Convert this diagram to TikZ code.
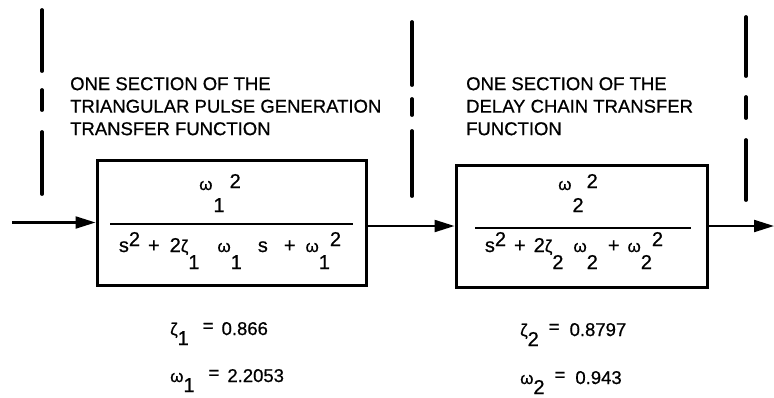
\documentclass[tikz,border=0pt]{standalone}
\usepackage{fontspec}
\setmainfont{Liberation Sans}[FakeBold=0.7]
\usetikzlibrary{arrows.meta}
\newcommand\fsz[1]{\fontsize{#1}{#1}\selectfont}
\newcommand\gk[1]{{\fsz{17}#1}}
\newcommand\lo[1]{\raisebox{-17pt}{#1}}
\newcommand\hi[1]{\raisebox{6pt}{#1}}
\begin{document}
\begin{tikzpicture}[x=1pt,y=-1pt,
  dashseg/.style={line width=3.8pt,line cap=round},
  tfbox/.style={draw,line width=3pt,rectangle,inner sep=0pt},
  fracbar/.style={line width=2pt},
  formula/.style={anchor=base,inner sep=0pt,font=\fsz{20}},
  caption/.style={anchor=north west,inner sep=0pt,align=left,font=\fontsize{18.5}{22.5}\selectfont},
  value/.style={anchor=base west,inner sep=0pt,font=\fsz{18.5}},
  flow/.style={line width=2.2pt,-{Triangle[length=20pt,width=12pt]}}]
\useasboundingbox (0,0) rectangle (774,397);
% dashed separators
\draw[dashseg] (42,10)--(42,71) (42,90)--(42,110) (42,132)--(42,194);
\draw[dashseg] (412,22)--(412,85) (412,99)--(412,115) (412,131)--(412,196);
\draw[dashseg] (746,17)--(746,76) (746,97)--(746,118) (746,140)--(746,200);
% captions
\node[caption] (cap1) at (70,77) {ONE SECTION OF THE\\TRIANGULAR PULSE GENERATION\\TRANSFER FUNCTION};
\node[caption] (cap2) at (466,77) {ONE SECTION OF THE\\DELAY CHAIN TRANSFER\\FUNCTION};
% boxes
\node[tfbox,minimum width=269pt,minimum height=125pt] (b1) at (231.5,222.5) {};
\node[tfbox,minimum width=251pt,minimum height=122pt] (b2) at (581.5,226) {};
% fraction bars
\coordinate (f1l) at (110,224); \coordinate (f1r) at (353,224);
\coordinate (f2l) at (475,228); \coordinate (f2r) at (691,228);
\draw[fracbar] (f1l) -- (f1r);
\draw[fracbar] (f2l) -- (f2r);
% numerators
\node[formula] (n1) at (220,190) {\gk{ω}\kern1pt\raisebox{-22pt}{1}\kern5pt\raisebox{2pt}{2}};
\node[formula] (n2) at (578,190) {\gk{ω}\kern1pt\raisebox{-22pt}{2}\kern3pt\raisebox{2pt}{2}};
% denominators
\node[formula] (d1) at (230,252) {s\hi{2}\hspace{8pt}+\hspace{10pt}2\gk{ζ}\lo{1}\hspace{18pt}\gk{ω}\lo{1}\hspace{16pt}s\hspace{16pt}+\hspace{10pt}\gk{ω}\lo{1}\hi{2}};
\node[formula] (d2) at (574,252) {s\hi{2}\hspace{8pt}+\hspace{8pt}2\gk{ζ}\lo{2}\hspace{10pt}\gk{ω}\lo{2}\hspace{10pt}+\hspace{8pt}\gk{ω}\lo{2}\hi{2}};
% parameter values
\node[value] (z1) at (170,335) {\gk{ζ}\raisebox{-10pt}{\fsz{20}1}\hspace{14pt}\raisebox{3pt}{=}\hspace{8pt}0.866};
\node[value] (w1) at (170,382) {\gk{ω}\raisebox{-10pt}{\fsz{20}1}\hspace{14pt}\raisebox{3pt}{=}\hspace{8pt}2.2053};
\node[value] (z2) at (520,336) {\gk{ζ}\raisebox{-10pt}{\fsz{20}2}\hspace{10pt}\raisebox{3pt}{=}\hspace{10pt}0.8797};
\node[value] (w2) at (520,384) {\gk{ω}\raisebox{-10pt}{\fsz{20}2}\hspace{10pt}\raisebox{3pt}{=}\hspace{10pt}0.943};
% signal flow
\coordinate (in) at (12,222.5);
\coordinate (out) at (774,226);
\draw[flow] (in) -- (b1.west);
\draw[flow] (b1.east |- b2.west) -- (b2.west);
\draw[flow] (b2.east) -- (out);
\end{tikzpicture}
\end{document}
